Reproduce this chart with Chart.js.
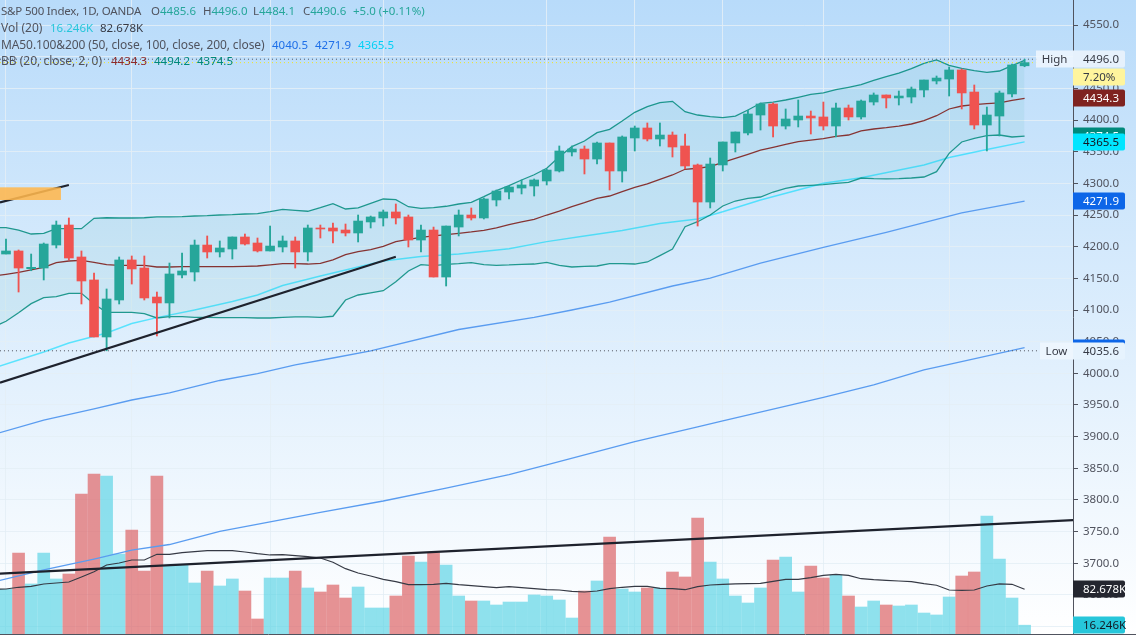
<!DOCTYPE html>
<html>
<head>
<meta charset="utf-8">
<title>S&amp;P 500 Index</title>
<script src="https://cdn.jsdelivr.net/npm/chart.js@4/dist/chart.umd.min.js"></script>
<style>
  html, body { margin: 0; padding: 0; }
  #wrap {
    position: relative; width: 1136px; height: 635px; overflow: hidden;
    background: linear-gradient(to bottom, #b8dbfa, #ffffff);
    font-family: "Noto Sans", sans-serif;
  }
  #grafico { position: absolute; left: 0; top: 0; }
  .leyenda { position: absolute; left: 1px; font-size: 12px; line-height: 16px; color: #50535e; white-space: pre; }
  .leyenda span { position: absolute; top: 0; font-size: 11.5px; }
  .leyenda b { font-weight: normal; color: #26a69a; }
</style>
</head>
<body>
<div id="wrap">
  <canvas id="grafico" width="1136" height="635"></canvas>
  <div class="leyenda" style="top:3px;font-size:11.5px;letter-spacing:-.2px">S&amp;P 500 Index, 1D, OANDA<span style="left:150px;letter-spacing:0">O<b>4485.6</b></span><span style="left:202px;letter-spacing:0">H<b>4496.0</b></span><span style="left:252px;letter-spacing:0">L<b>4484.1</b></span><span style="left:302px;letter-spacing:0">C<b>4490.6</b></span><span style="left:352px;letter-spacing:0"><b>+5.0 (+0.11%)</b></span></div>
  <div class="leyenda" style="top:20px">Vol (20)<span style="left:49px;color:#26c6da">16.246K</span><span style="left:99px;color:#363a45">82.678K</span></div>
  <div class="leyenda" style="top:37px;letter-spacing:-.1px">MA50.100&amp;200 (50, close, 100, close, 200, close)<span style="left:271px;letter-spacing:0;color:#1e6fe8">4040.5</span><span style="left:314px;letter-spacing:0;color:#1e6fe8">4271.9</span><span style="left:357px;letter-spacing:0;color:#00d0f5">4365.5</span></div>
  <div class="leyenda" style="top:53px">BB (20, close, 2, 0)<span style="left:110px;color:#8e2a2a">4434.3</span><span style="left:153px;color:#00897b">4494.2</span><span style="left:196px;color:#00897b">4374.5</span></div>
</div>
<script>
// velas diarias
const opens = [4188.4,4193.2,4165.2,4166.3,4202.6,4234.2,4183.7,4147.4,4057.4,4115.8,4179,4166.3,4120.5,4111.1,4155.3,4160,4202.6,4191.6,4196.3,4215.3,4205.8,4193.2,4199.5,4209,4191.6,4229.5,4229.5,4226.3,4221.6,4239,4245.3,4254.8,4246.9,4210.5,4226.3,4152.1,4231,4250,4245.3,4273.7,4286.3,4292.6,4295.8,4303.7,4319.5,4349.5,4354.2,4338.4,4363.7,4319.5,4371.6,4387.4,4370,4376.3,4359,4329,4270.5,4329,4363.7,4379.5,4407.9,4425.3,4390.5,4400,4406.3,4404.8,4390.5,4419,4404.8,4428.4,4439.5,4434.8,4436.3,4447.4,4461.6,4464.7,4479,4444.2,4392.1,4406.3,4441.1,4485.6];
const highs = [4212.1,4194.8,4188.4,4205.8,4240.5,4245.3,4193.2,4158.4,4133.2,4183.7,4185.3,4185.3,4128.4,4174.2,4190,4210.5,4216.9,4209,4215.3,4220,4213.7,4232.6,4216.9,4215.3,4234.2,4234.2,4237.4,4235.8,4250,4248.4,4257.9,4267.4,4250,4234.2,4231,4232.6,4257.9,4261.1,4276.9,4289.5,4295.8,4305.3,4306.9,4322.6,4359,4359,4359,4365.3,4363.7,4374.8,4390.5,4395.3,4395.3,4381.1,4377.9,4330.5,4340,4365.3,4381.1,4415.8,4426.9,4426.9,4417.4,4431.6,4414.2,4428.4,4426.9,4423.7,4431.6,4442.7,4439.5,4445.8,4452.1,4463.2,4469.5,4483.7,4480.5,4455.3,4420.5,4445.8,4488.4,4496];
const lows = [4188.4,4128.4,4162,4147.4,4197.9,4179,4109.5,4057.4,4035.6,4109.5,4141,4115.8,4059,4087.4,4150.5,4145.8,4182.1,4183.7,4180.5,4202.6,4191.6,4193.2,4191.6,4166.3,4177.4,4213.7,4205.8,4216.9,4207.4,4229.5,4232.6,4235.8,4199.5,4191.6,4152.1,4137.9,4216.9,4242.1,4243.7,4264.2,4275.3,4283.2,4280,4297.4,4317.9,4343.2,4314.8,4330.5,4289.5,4302.1,4351.1,4366.9,4359,4341.6,4322.6,4232.6,4261.1,4319.5,4349.5,4376.3,4384.2,4373.2,4385.8,4389,4377.9,4384.2,4373.2,4400,4401.6,4423.7,4419,4423.7,4426.9,4436.3,4456.9,4437.9,4417.4,4385.8,4351.1,4374.8,4436.3,4484.1];
const closes = [4193.2,4166.3,4167.4,4204.2,4234.2,4182.1,4145.8,4057.4,4117.4,4179,4164.8,4119,4111.1,4156.9,4161.6,4202.6,4191.6,4197.9,4215.3,4204.2,4193.2,4201,4209,4191.6,4229.5,4227.9,4224.7,4221.6,4240.5,4246.9,4254.8,4245.3,4210.5,4226.3,4152.1,4232.6,4250,4245.3,4275.3,4287.9,4294.2,4297.4,4305.3,4321,4351.1,4354.2,4338.4,4363.7,4319.5,4373.2,4387.4,4370,4376.3,4357.4,4327.4,4270.5,4330.5,4365.3,4381.1,4409.5,4425.3,4390.5,4401.6,4406.3,4403.2,4390.5,4419,4404.8,4430,4439.5,4434.8,4437.9,4449,4463.2,4466.3,4479,4442.7,4392.1,4407.9,4442.7,4486.9,4490.6];

// volumen en miles
const volumes = [82.5,149.4,92.3,149.4,101.5,110.7,258.3,295.2,291.5,147.6,191.9,116.2,291.5,125.5,127.3,94.1,116.2,88.6,101.5,79.3,27.7,103.3,103.3,116.2,84.9,77.5,90.4,66.4,86.7,48,48,70.1,143.9,132.8,149.4,127.3,70.1,60.9,60.9,53.5,59,59,72,70.1,62.7,29.5,79.3,97.8,179,83,77.5,84.9,84.9,114.4,105.2,214,132.8,101.5,70.1,57.2,84.9,136.5,142.1,77.5,125.5,103.3,108.9,70.1,49.8,60.9,53.5,51.7,53.5,38.7,35.1,68.3,107,114.4,217.7,138.4,66.4,16.246];
const volumeUp = [1,0,1,1,1,0,0,0,1,1,0,0,0,1,1,1,0,1,1,0,0,1,1,0,1,0,0,0,1,1,1,0,0,1,0,1,1,0,1,1,1,1,1,1,1,1,0,1,0,1,1,0,1,0,0,0,1,1,1,1,1,0,1,1,0,0,1,0,1,1,0,1,1,1,1,1,0,0,1,1,1,1];

// estas series empiezan un dia antes de la primera vela, cortadas por el borde
const volumeAvg = [82.5,83,86.2,88,92.3,94.1,95.9,105.2,114.9,127.3,131,136.5,136.5,147,147,150,151.8,153.7,153.7,153.7,151.3,148.2,145.8,146.3,144.5,142.6,140.2,132.3,120.5,112.5,107,100.9,96.5,91,91,91.7,93.5,91,89.1,87.3,85.4,87.3,85.4,83.6,81.7,81.2,78.8,77.5,79.3,83.6,86.2,88,88,84.3,83.6,81.7,87.3,90.4,91.7,92.3,92.8,93.5,97.2,100.9,100.9,103.9,108.3,110.1,108.3,102,100.2,99.1,97.8,96.5,92.8,89.9,81.2,80.6,81.2,88.6,92.3,91.7,82.678];
const bbBasis = [4153.7,4156.4,4159.5,4163.2,4167.4,4174.7,4177.4,4178.5,4175.3,4171.5,4170.6,4170.6,4170.6,4167.9,4167.9,4168.4,4168.4,4168.4,4168.4,4168.4,4169,4169.5,4171.1,4173.1,4173.1,4172.6,4173.7,4179,4187.3,4192.1,4195.2,4200.6,4207.9,4211.6,4214.8,4216.9,4218.9,4221.1,4223.2,4225.9,4229.5,4234.7,4239,4243.2,4250,4256.3,4263.1,4269.4,4276.4,4280,4286.8,4293.8,4299,4306.4,4313.2,4322.2,4323.8,4326.3,4333.2,4339.5,4345.9,4352.6,4356.9,4361.6,4365.8,4368.4,4370.5,4374.3,4376.3,4382.7,4385.8,4387.9,4390.5,4393.7,4398.9,4406.8,4417.4,4422.1,4424.2,4425.8,4426.9,4431.1,4434.3];
const bbUpper = [4230,4230,4226.3,4220,4221.1,4228.4,4228.4,4228.4,4244.8,4245.7,4245.3,4245.3,4245.7,4246.9,4246.9,4247.3,4248.4,4248.9,4250,4250.5,4251.6,4252.1,4255.2,4259,4257.4,4255.9,4261.5,4267.9,4259.5,4261.1,4268.5,4275.3,4274.2,4263.1,4260.6,4261.5,4263.8,4267.4,4270.1,4278.9,4288.4,4296.3,4305.3,4313.6,4323.8,4342.1,4357.9,4366.9,4380,4385.3,4398.4,4412.2,4421,4427.3,4429.5,4413.1,4407.9,4405.2,4403.7,4406.3,4415.8,4426.4,4428.4,4431.6,4435.9,4440.6,4442.7,4447.9,4451.7,4455.8,4462.7,4468.4,4474.2,4481,4489.5,4494.8,4486.4,4481.7,4477.9,4475.3,4477.4,4485.8,4494.2];
const bbLower = [4073.2,4082.2,4095.7,4110,4119.4,4121,4126.4,4126.4,4109.5,4096.4,4096.4,4096.4,4094.2,4087.4,4089.4,4089.4,4088.5,4088.5,4087.9,4087.9,4087.9,4087.4,4087.4,4088.5,4089,4089,4088.5,4090.1,4115.8,4123.7,4126.9,4130.5,4144.7,4161.6,4171.5,4170,4172.2,4173.1,4174.7,4171.5,4170.6,4171.1,4172.2,4172.6,4175.3,4170.6,4167.9,4169,4169.5,4173.1,4173.1,4172.6,4175.8,4185.8,4196.3,4231.5,4239.4,4250,4264.2,4272.1,4276.4,4278.4,4286.3,4292.2,4295.8,4296.9,4297.9,4300.1,4301.6,4308.4,4307.3,4306.9,4307.3,4308.4,4310,4318.4,4347.4,4365.3,4371.1,4375.2,4376.3,4373.2,4374.5];

const ma50Days = [-1,1,3,5,8,10,12,15,18,20,22,25,27,30,33,36,40,43,46,49,52,55,57,60,65,68,73,75,78,81];
const ma50 = [4008.4,4021.1,4033.7,4047.9,4063.7,4078.7,4087.9,4100,4113.4,4123.7,4138.7,4153.7,4163.2,4177.4,4184.5,4188.4,4196.8,4207.9,4216.9,4225.5,4236.6,4243.7,4255.2,4273.7,4300.1,4308.9,4329,4340.8,4353.4,4365.5];
const ma100Days = [-1,3,7,10,13,17,20,23,26,29,36,42,45,48,53,56,60,65,70,76,81];
const ma100 = [3903.4,3926.3,3943.7,3957.9,3969,3988.7,3999.7,4013.2,4024.2,4035.3,4069.2,4088.2,4100,4112.6,4137.9,4150.5,4174.2,4199,4222.4,4253.2,4271.9];
const ma200Days = [-1,3,7,10,13,17,21,25,30,35,40,43,50,55,57,65,69,73,75,81];
const ma200 = [3670.5,3689.5,3706.8,3721,3729.7,3750.3,3765.3,3780.3,3798.4,3818.9,3840,3855.3,3892,3915.3,3924.8,3962.2,3981.6,4005.3,4014.3,4040.5];

// lineas dibujadas a mano: [dia, precio] de cada extremo
const trendSupport = [[-0.48,3985.2],[31,4184.2]];
const trendOld = [[-0.48,4270],[5,4297.4]];
const trendVolume = [[-0.48,3683.6],[85,3768.4]];
const orangeDays = [-0.48,4.37];
const orangePrices = [4273.7,4293.7];
const highLine = [[-0.48,4496],[82.1,4496]];
const closeLine = [[-0.48,4490.6],[82.1,4490.6]];
const lowLine = [[-0.48,4035.6],[82.2,4035.6]];

// ejes
const gridDays = [0,10,21,30,43,50,57,65,75];
const priceTicks = [3600,3650,3700,3750,3800,3850,3900,3950,4000,4050,4100,4150,4200,4250,4300,4350,4400,4450,4500,4550];
const hiddenPriceTicks = [3600,4500];

// etiquetas del eje derecho, en orden de dibujo
const tagTexts = ["4496.0","7.20%","4434.3","4374.5","4365.5","4271.9","4040.5","4035.6","82.678K","16.246K"];
const tagValues = [4496,4468.7,4434.3,4374.5,4365.5,4271.9,4040.5,4035.6,82.678,16.246];
const tagAxis = ["y","y","y","y","y","y","y","y","vol","vol"];

const UP = "#26a69a";
const DOWN = "#ef5350";
const AXIS = "#50535e";
const FONT = '"Noto Sans", sans-serif';

const tagStyles = [
  { bg: "#e6f1fc", fg: "#363a45" },
  { bg: "#fff59d", fg: "#363a45" },
  { bg: "#7f2320", fg: "#ffffff" },
  { bg: "#00897b", fg: "#ffffff" },
  { bg: "#00e5ff", fg: "#131722" },
  { bg: "#0d66e8", fg: "#ffffff" },
  { bg: "#0d66e8", fg: "#ffffff" },
  { bg: "#e6f3fe", fg: "#363a45" },
  { bg: "#24262f", fg: "#ffffff" },
  { bg: "#26c6da", fg: "#131722" },
];

const toPoints = (days, values) => days.map((d, i) => ({ x: d, y: values[i] }));
const allDays = opens.map((_, i) => i);
const lineDays = [-1].concat(allDays);
const pairs = (line) => line.map((p) => ({ x: p[0], y: p[1] }));
const candleColor = closes.map((c, i) => (c >= opens[i] ? UP : DOWN));

function lineSet(data, color, width, order, extra) {
  return Object.assign({
    type: "line", data, borderColor: color, borderWidth: width, pointRadius: 0,
    tension: 0, fill: false, order, yAxisID: "y",
  }, extra);
}

const datasets = [
  // 0 y 1: banda, con relleno entre ambas
  lineSet(toPoints(lineDays, bbUpper), "rgba(0,137,123,.85)", 1.3, 5, {
    fill: 1, backgroundColor: "rgba(38,166,154,.08)",
  }),
  lineSet(toPoints(lineDays, bbLower), "rgba(0,137,123,.85)", 1.3, 5),
  lineSet(toPoints(lineDays, bbBasis), "#8e2a2a", 1.3, 5),
  lineSet(toPoints(ma50Days, ma50), "rgba(0,220,255,.6)", 1.4, 5),
  lineSet(toPoints(ma100Days, ma100), "#5a9cf0", 1.3, 5),
  lineSet(toPoints(ma200Days, ma200), "#5a9cf0", 1.3, 5),
  lineSet(toPoints(lineDays, volumeAvg), "#363a45", 1.2, 4, { yAxisID: "vol" }),
  lineSet(pairs(highLine), AXIS, 1, 4, { borderDash: [1, 3] }),
  lineSet(pairs(closeLine), "#f5e61e", 1, 4, { borderDash: [1, 3] }),
  lineSet(pairs(lowLine), AXIS, 1, 4, { borderDash: [1, 3] }),
  {
    type: "bar", yAxisID: "vol", order: 9, grouped: false, barThickness: 12,
    data: toPoints(allDays, volumes),
    backgroundColor: volumeUp.map((u) => (u ? "rgba(100,214,230,.72)" : "rgba(222,110,112,.75)")),
  },
  {
    type: "bar", yAxisID: "y", order: 3, grouped: false, barThickness: 1.2,
    data: allDays.map((i) => ({ x: i, y: [lows[i], highs[i]] })),
    backgroundColor: candleColor,
  },
  {
    type: "bar", yAxisID: "y", order: 2, grouped: false, barThickness: 9,
    data: allDays.map((i) => ({ x: i, y: [opens[i], closes[i]] })),
    backgroundColor: candleColor,
  },
  lineSet(pairs(trendSupport), "#1e222d", 2.2, 1),
  lineSet(pairs(trendOld), "#1e222d", 2.2, 1),
  lineSet(pairs(trendVolume), "#1e222d", 2.2, 1),
];

// rectangulo naranja y etiquetas del eje
const overlays = {
  id: "overlays",
  afterDatasetsDraw(chart) {
    const { ctx, scales } = chart;
    const x0 = scales.x.getPixelForValue(orangeDays[0]);
    const x1 = scales.x.getPixelForValue(orangeDays[1]);
    const y0 = scales.y.getPixelForValue(orangePrices[1]);
    const y1 = scales.y.getPixelForValue(orangePrices[0]);
    ctx.save();
    ctx.fillStyle = "rgba(255,183,77,.88)";
    ctx.fillRect(x0, y0, x1 - x0, y1 - y0);
    ctx.restore();
  },
  afterDraw(chart) {
    const { ctx, scales, chartArea } = chart;
    const axisX = chartArea.right;
    ctx.save();
    ctx.fillStyle = AXIS;
    ctx.fillRect(axisX, chartArea.bottom, 1136 - axisX, 1);
    ctx.font = "11.5px " + FONT;
    ctx.textBaseline = "middle";
    tagTexts.forEach((text, i) => {
      const y = Math.round(scales[tagAxis[i]].getPixelForValue(tagValues[i]));
      const st = tagStyles[i];
      ctx.fillStyle = st.bg;
      ctx.beginPath();
      ctx.roundRect(axisX, y - 8.5, 52, 17, [0, 2, 2, 0]);
      ctx.fill();
      ctx.fillStyle = st.fg;
      ctx.textAlign = "left";
      ctx.fillText(text, axisX + 10, y + 0.5);
    });
    // cajas High y Low
    [["High", 4496, 37], ["Low", 4035.6, 33]].forEach(([text, value, w]) => {
      const y = Math.round(scales.y.getPixelForValue(value));
      ctx.fillStyle = "rgba(240,247,254,.85)";
      ctx.fillRect(axisX - w, y - 8.5, w, 17);
      ctx.fillStyle = "#363a45";
      ctx.textAlign = "center";
      ctx.fillText(text, axisX - w / 2, y + 0.5);
    });
    ctx.restore();
  },
};

const canvas = document.getElementById("grafico");
new Chart(canvas, {
  data: { datasets },
  plugins: [overlays],
  options: {
    responsive: false,
    animation: false,
    devicePixelRatio: 1,
    layout: { padding: { bottom: 1 } },
    plugins: { legend: { display: false }, tooltip: { enabled: false } },
    scales: {
      x: {
        type: "linear", min: -0.477, max: 84.85, offset: false,
        ticks: { display: false },
        grid: { color: "rgba(228,238,246,.85)", drawTicks: false, offset: false },
        border: { color: AXIS },
        afterBuildTicks: (scale) => { scale.ticks = gridDays.map((value) => ({ value })); },
        afterFit: (scale) => { scale.height = 0; },
      },
      y: {
        position: "right", min: 3588.4, max: 4589.5,
        afterBuildTicks: (scale) => { scale.ticks = priceTicks.map((value) => ({ value })); },
        afterFit: (scale) => { scale.width = 63; scale.paddingTop = 0; scale.paddingBottom = 0; },
        ticks: {
          padding: 5, color: AXIS, font: { family: "Noto Sans", size: 11.5 },
          autoSkip: false,
          callback: (v) => (hiddenPriceTicks.includes(v) ? "" : v.toFixed(1)),
        },
        grid: { color: "rgba(228,238,246,.85)", tickColor: AXIS, tickLength: 5 },
        border: { color: AXIS },
      },
      vol: { display: false, min: 0, max: 1169.7, ticks: { display: false } },
    },
  },
});
</script>
</body>
</html>
